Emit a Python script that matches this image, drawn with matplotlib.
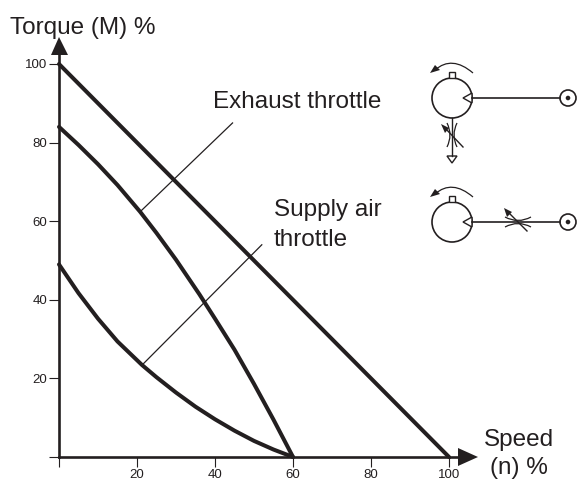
import matplotlib
matplotlib.use("Agg")
import matplotlib.pyplot as plt
from matplotlib.patches import Circle, Polygon, PathPatch, Rectangle
from matplotlib.path import Path

plt.rcParams['font.family'] = ['Liberation Sans', 'DejaVu Sans']

# chart values
x_ticks = [20, 40, 60, 80, 100]
y_ticks = [20, 40, 60, 80, 100]

full_speed = [0, 100]
full_torque = [100, 0]

exhaust_speed = [0, 5, 10, 15, 20.8, 25, 30, 36, 40, 45, 50, 55, 60]
exhaust_torque = [84, 79.4, 74.5, 69.2, 62.4, 57, 50.2, 41.4, 35.2, 27.3, 18.6, 9.5, 0]

supply_speed = [0, 5, 10, 15, 21.3, 25, 30, 35, 40, 45, 50, 55, 60]
supply_torque = [49, 41.7, 35.2, 29.4, 23.4, 20.3, 16.4, 12.8, 9.6, 6.7, 4.1, 1.9, 0]

exhaust_leader_x = [20.8, 44.5]
exhaust_leader_y = [62.4, 85]
supply_leader_x = [21.3, 52]
supply_leader_y = [23.4, 54]

W, H = 579, 482
DARK = '#231f20'

fig = plt.figure(figsize=(W / 100, H / 100), dpi=100)
ax = fig.add_axes([59 / W, (H - 457) / H, 390 / W, 393 / H])
ax.set_xlim(0, 100)
ax.set_ylim(0, 100)
ax.patch.set_alpha(0)

for s in ['top', 'right']:
    ax.spines[s].set_visible(False)
for s in ['left', 'bottom']:
    ax.spines[s].set_linewidth(1.9)
    ax.spines[s].set_color(DARK)

ax.set_xticks([0] + x_ticks, [''] + [str(t) for t in x_ticks])
ax.set_yticks([0] + y_ticks, [''] + [str(t) for t in y_ticks])
ax.tick_params(axis='both', length=7, width=0.8, color=DARK, labelcolor=DARK,
               labelsize=9.5)
ax.tick_params(axis='x', pad=2)
ax.tick_params(axis='y', pad=1.5)

for xs, ys in [(full_speed, full_torque), (exhaust_speed, exhaust_torque),
               (supply_speed, supply_torque)]:
    ax.plot(xs, ys, color=DARK, lw=2.9, solid_capstyle='round', clip_on=False)

ax.plot(exhaust_leader_x, exhaust_leader_y, color=DARK, lw=0.9)
ax.plot(supply_leader_x, supply_leader_y, color=DARK, lw=0.9)

# overlay in image pixels for the labels, arrow heads and circuit symbols
ov = fig.add_axes([0, 0, 1, 1])
ov.set_xlim(0, W)
ov.set_ylim(H, 0)
ov.axis('off')
ov.patch.set_alpha(0)


def txt(x, y, s, **kw):
    ov.text(x, y, s, fontsize=17.5, color=DARK, va='center', **kw)


txt(10, 28, 'Torque (M) %')
txt(213, 102, 'Exhaust throttle')
txt(274, 225, 'Supply air\nthrottle', linespacing=1.45)
txt(519, 454, 'Speed\n(n) %', ha='center', linespacing=1.35)

# axis lines run on into the arrow heads
line_kw = dict(color=DARK, lw=1.9, solid_capstyle='butt')
ov.plot([59, 59], [64, 50], **line_kw)
ov.plot([449, 460], [457, 457], **line_kw)
ov.add_patch(Polygon([(59, 37), (51, 55), (68, 55)], color=DARK, lw=0))
ov.add_patch(Polygon([(478, 457), (458, 448), (458, 466)], color=DARK, lw=0))


def line(pts, lw=1.0):
    ov.plot([p[0] for p in pts], [p[1] for p in pts], color=DARK, lw=lw)


def curve(a, b, c, lw=0.9):
    ov.add_patch(PathPatch(Path([a, b, c], [Path.MOVETO, Path.CURVE3, Path.CURVE3]),
                           fill=False, ec=DARK, lw=lw))


def motor(cy):
    ov.add_patch(Circle((452, cy), 20, fc='white', ec=DARK, lw=1.2))
    ov.add_patch(Rectangle((448.5, cy - 26), 6, 6, fc='white', ec=DARK, lw=1.0))
    ov.add_patch(Polygon([(472, cy - 5), (463, cy), (472, cy + 5)],
                         fc='white', ec=DARK, lw=1.0))
    line([(472, cy), (560, cy)], 1.2)
    ov.add_patch(Circle((568, cy), 8, fc='white', ec=DARK, lw=1.2))
    ov.add_patch(Circle((568, cy), 2.3, fc=DARK, ec=DARK, lw=0))
    # rotation arrow
    curve((473, cy - 25), (452, cy - 43), (435, cy - 28))
    ov.add_patch(Polygon([(430, cy - 25), (435, cy - 33), (440, cy - 28)],
                         color=DARK, lw=0))


motor(98)
motor(222)

# throttle on the exhaust port
line([(452, 118), (452, 156)])
curve((447, 123), (453, 135), (447, 147))
curve((457, 123), (451, 135), (457, 147))
line([(463, 147), (445, 128)])
ov.add_patch(Polygon([(441, 124), (449, 128), (445, 133)], color=DARK, lw=0))
ov.add_patch(Polygon([(447, 156), (457, 156), (452, 163)],
                     fc='white', ec=DARK, lw=1.0))

# throttle on the supply line
curve((505, 217), (518, 224), (531, 217))
curve((505, 227), (518, 220), (531, 227))
line([(527, 231), (508, 212)])
ov.add_patch(Polygon([(504, 208), (512, 212), (507, 217)], color=DARK, lw=0))

fig.savefig('out.png', dpi=100)
